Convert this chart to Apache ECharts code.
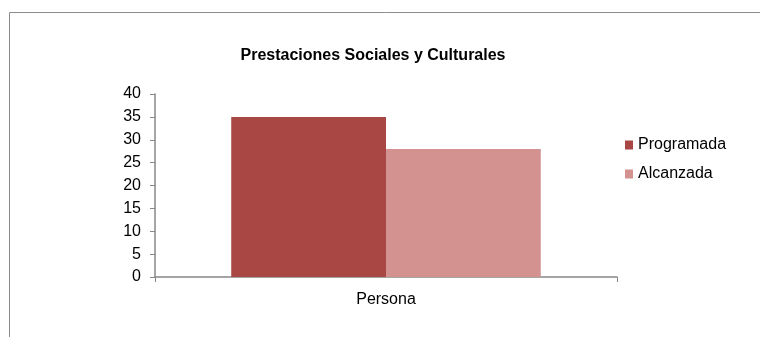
<!DOCTYPE html>
<html><head><meta charset="utf-8">
<script src="https://cdn.jsdelivr.net/npm/echarts@6/dist/echarts.min.js"></script>
<style>html,body{margin:0;padding:0;background:#fff}#c{width:760px;height:337px}</style>
</head><body><div id="c"></div>
<script>
var categories = ['Persona'];
var seriesNames = ['Programada', 'Alcanzada'];
var programada = [35];
var alcanzada = [28];
var yTicks = [0, 5, 10, 15, 20, 25, 30, 35, 40];

var chart = echarts.init(document.getElementById('c'));
var font = 'Liberation Sans, Arial, sans-serif';
chart.setOption({
  animation: false,
  backgroundColor: '#fff',
  title: {
    text: 'Prestaciones Sociales y Culturales',
    left: 368, top: 43, textAlign: 'center',
    textStyle: {fontFamily: font, fontSize: 16, fontWeight: 'bold', color: '#000'}
  },
  graphic: [{
    type: 'rect', shape: {x: 9.5, y: 12.5, width: 800, height: 400},
    style: {fill: 'none', stroke: '#8c8c8c', lineWidth: 1}, silent: true
  }],
  legend: {
    orient: 'vertical', left: 620, top: 132, itemWidth: 8, itemHeight: 9, itemGap: 13,
    icon: 'rect',
    textStyle: {fontFamily: font, fontSize: 16, color: '#000'},
    data: seriesNames
  },
  grid: {left: 155, top: 94, width: 462, height: 183, containLabel: false},
  xAxis: {
    type: 'category', data: categories,
    axisLine: {lineStyle: {color: '#888', width: 1.5}},
    axisTick: {show: true, length: 5, lineStyle: {color: '#888'}},
    axisLabel: {fontFamily: font, fontSize: 16, color: '#000', margin: 15}
  },
  yAxis: {
    type: 'value', min: yTicks[0], max: yTicks[yTicks.length-1], interval: 5,
    splitLine: {show: false},
    axisLine: {show: true, lineStyle: {color: '#888', width: 1.5}},
    axisTick: {show: true, length: 5, lineStyle: {color: '#888'}},
    axisLabel: {fontFamily: font, fontSize: 16, color: '#000', margin: 14}
  },
  series: [
    {name: seriesNames[0], type: 'bar', data: programada, barGap: '0%', barCategoryGap: '33%',
     itemStyle: {color: '#A94745'}},
    {name: seriesNames[1], type: 'bar', data: alcanzada, barGap: '0%', barCategoryGap: '33%',
     itemStyle: {color: '#D39190'}}
  ]
});
</script></body></html>
